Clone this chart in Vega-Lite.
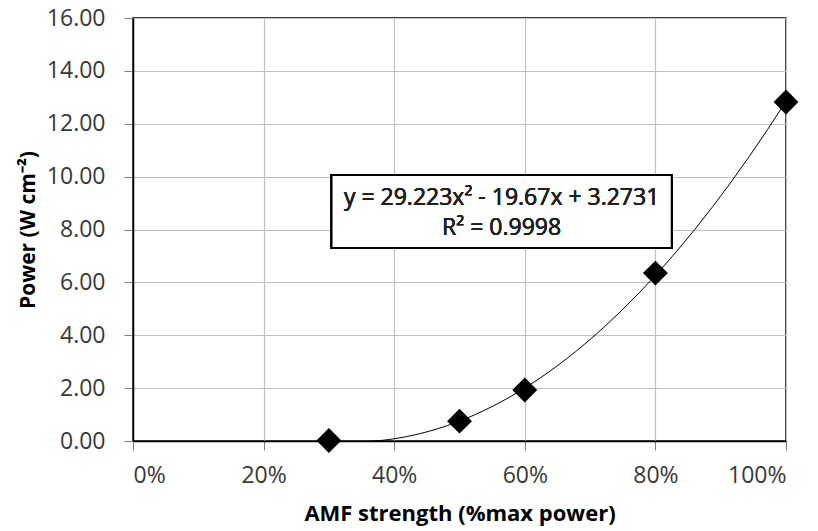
{
  "$schema": "https://vega.github.io/schema/vega-lite/v6.json",
  "autosize": "none",
  "width": 653,
  "height": 423,
  "padding": {"left": 133, "top": 18, "right": 32, "bottom": 90},
  "background": "white",
  "config": {
    "view": {"stroke": "#000000", "strokeWidth": 1.5},
    "font": "Open Sans"
  },
  "data": {
    "values": [
      {"amf": 0.3, "power": 0.02},
      {"amf": 0.5, "power": 0.75},
      {"amf": 0.6, "power": 1.93},
      {"amf": 0.8, "power": 6.35},
      {"amf": 1.0, "power": 12.82}
    ]
  },
  "layer": [
    {
      "mark": {"type": "line", "color": "#000000", "strokeWidth": 1, "clip": true},
      "transform": [
        {"regression": "power", "on": "amf", "method": "poly", "order": 2, "extent": [0.3, 1.0]}
      ],
      "encoding": {
        "x": {
          "field": "amf", "type": "quantitative",
          "scale": {"domain": [0, 1], "nice": false, "zero": false},
          "axis": {
            "format": ".0%", "values": [0, 0.2, 0.4, 0.6, 0.8, 1.0],
            "title": "AMF strength (%max power)",
            "titleFont": "Open Sans", "titleFontSize": 22, "titleFontWeight": "bold", "titleColor": "#000000",
            "titlePadding": 16,
            "labelFont": "Open Sans", "labelFontSize": 23, "labelColor": "#383838", "labelPadding": 14,
            "tickSize": 9, "tickColor": "#808080", "domainColor": "#000000", "domainWidth": 1.5,
            "gridColor": "#c0c0c0", "gridWidth": 1.2
          }
        },
        "y": {
          "field": "power", "type": "quantitative",
          "scale": {"domain": [0, 16], "nice": false},
          "axis": {
            "format": ".2f", "values": [0, 2, 4, 6, 8, 10, 12, 14, 16],
            "title": "Power (W cm⁻²)",
            "titleFont": "Open Sans", "titleFontSize": 21, "titleFontWeight": "bold", "titleColor": "#000000",
            "titlePadding": 8,
            "labelFont": "Open Sans", "labelFontSize": 23, "labelColor": "#383838", "labelPadding": 19,
            "tickSize": 9, "tickColor": "#808080", "domainColor": "#000000", "domainWidth": 1.5,
            "gridColor": "#c0c0c0", "gridWidth": 1.2
          }
        }
      }
    },
    {
      "mark": {"type": "point", "shape": "diamond", "filled": true, "color": "#000000", "size": 620, "opacity": 1},
      "encoding": {
        "x": {"field": "amf", "type": "quantitative"},
        "y": {"field": "power", "type": "quantitative"}
      }
    },
    {
      "mark": {"type": "rect", "fill": "white", "stroke": "#000000", "strokeWidth": 2},
      "encoding": {
        "x": {"datum": 0.304},
        "x2": {"datum": 0.825},
        "y": {"datum": 10.06},
        "y2": {"datum": 7.3}
      }
    },
    {
      "mark": {"type": "text", "text": "y = 29.223x² - 19.67x + 3.2731", "font": "Open Sans", "fontSize": 23, "color": "#202020", "align": "center", "baseline": "alphabetic"},
      "encoding": {
        "x": {"datum": 0.5645},
        "y": {"datum": 8.93}
      }
    },
    {
      "mark": {"type": "text", "text": "R² = 0.9998", "font": "Open Sans", "fontSize": 23, "color": "#202020", "align": "center", "baseline": "alphabetic"},
      "encoding": {
        "x": {"datum": 0.5645},
        "y": {"datum": 7.79}
      }
    }
  ]
}
